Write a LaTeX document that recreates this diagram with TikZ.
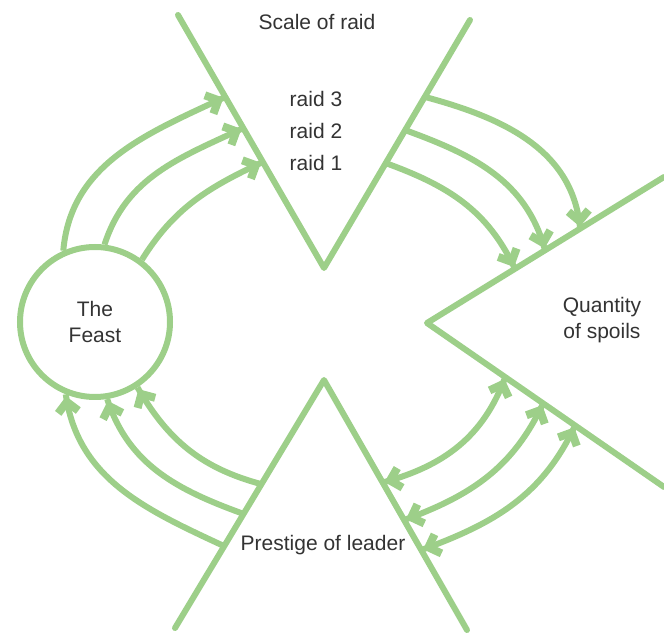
\documentclass[tikz,border=0pt]{standalone}
\usepackage{fontspec}
\setmainfont{Liberation Sans}
\usetikzlibrary{calc,decorations.markings}
\definecolor{lg}{RGB}{157,207,137}
\definecolor{txt}{RGB}{51,51,51}
\begin{document}
\begin{tikzpicture}[x=1pt,y=1pt,
  tipend/.style={postaction={decorate,decoration={markings,mark=at position 1 with {\fill[lg] (-2pt,0pt) -- (-15pt,13pt) -- (-20.7pt,7.3pt) -- (-13.3pt,0pt) -- (-20.7pt,-7.3pt) -- (-15pt,-13pt) -- cycle;}}}},
  tipstart/.style={postaction={decorate,decoration={markings,mark=at position 0 with {\fill[lg] (2pt,0pt) -- (15pt,13pt) -- (20.7pt,7.3pt) -- (13.3pt,0pt) -- (20.7pt,-7.3pt) -- (15pt,-13pt) -- cycle;}}}},
  wall/.style={draw=lg,line width=6pt,line cap=round,line join=round},
  flow/.style={draw=lg,line width=6pt,tipend},
  both/.style={draw=lg,line width=6pt,tipend,tipstart},
  lbl/.style={text=txt,font=\fontsize{21}{26}\selectfont,align=center,inner sep=0pt}]
\useasboundingbox (0,0) rectangle (664,635);
\coordinate (A1) at (178,620);
\coordinate (TV) at (324,367);
\coordinate (A2) at (470,615);
\coordinate (B1) at (664,458);
\coordinate (RV) at (427,312);
\coordinate (B2) at (664,148);
\coordinate (C1) at (175,7);
\coordinate (BV) at (324,255);
\coordinate (C2) at (467,5);
\draw[wall] (A1) -- (TV) -- (A2);
\draw[wall] (B1) -- (RV) -- (B2);
\draw[wall] (C1) -- (BV) -- (C2);
\node[circle,draw=lg,line width=6pt,minimum size=150pt,lbl] (feast) at (95,313) {The\\Feast};
\coordinate (l3) at ($(TV)!0.676!(A1)$);
\coordinate (l2) at ($(TV)!0.553!(A1)$);
\coordinate (l1) at ($(TV)!0.419!(A1)$);
\coordinate (r3) at ($(TV)!0.69!(A2)$);
\coordinate (r2) at ($(TV)!0.556!(A2)$);
\coordinate (r1) at ($(TV)!0.423!(A2)$);
\coordinate (q3) at ($(RV)!0.646!(B1)$);
\coordinate (q2) at ($(RV)!0.498!(B1)$);
\coordinate (q1) at ($(RV)!0.371!(B1)$);
\coordinate (s1) at ($(RV)!0.33!(B2)$);
\coordinate (s2) at ($(RV)!0.49!(B2)$);
\coordinate (s3) at ($(RV)!0.625!(B2)$);
\coordinate (p1) at ($(BV)!0.41!(C2)$);
\coordinate (p2) at ($(BV)!0.56!(C2)$);
\coordinate (p3) at ($(BV)!0.68!(C2)$);
\coordinate (m1) at ($(BV)!0.42!(C1)$);
\coordinate (m2) at ($(BV)!0.54!(C1)$);
\coordinate (m3) at ($(BV)!0.67!(C1)$);
% feast -> scale of raid
\draw[flow] (feast.114) to[out=85,in=205] (l3);
\draw[flow] (feast.83) to[out=72,in=205] (l2);
\draw[flow] (feast.53) to[out=58,in=205] (l1);
% scale of raid -> quantity of spoils
\draw[flow] (r3) to[out=-15,in=95] (q3);
\draw[flow] (r2) to[out=-20,in=105] (q2);
\draw[flow] (r1) to[out=-20,in=115] (q1);
% quantity <-> prestige
\draw[both] (s1) to[out=250,in=15] (p1);
\draw[both] (s2) to[out=245,in=20] (p2);
\draw[both] (s3) to[out=245,in=20] (p3);
% prestige -> feast
\draw[flow] (m1) to[out=165,in=-60] (feast.-57);
\draw[flow] (m2) to[out=160,in=-72] (feast.-81);
\draw[flow] (m3) to[out=155,in=-82] (feast.-112);
% labels
\node[lbl] (scale) at (317,613) {Scale of raid};
\node[lbl] (raid3) at (316,536) {raid 3};
\node[lbl] (raid2) at (316,504) {raid 2};
\node[lbl] (raid1) at (316,472) {raid 1};
\node[lbl] (qty) at (602,315) {Quantity\\of spoils};
\node[lbl] (prest) at (323,90) {Prestige of leader};
\end{tikzpicture}
\end{document}
